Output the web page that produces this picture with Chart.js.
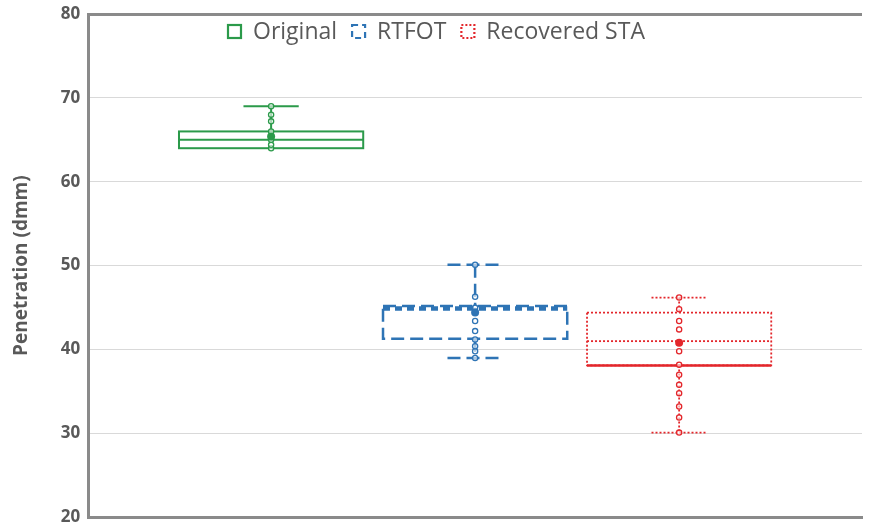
<!DOCTYPE html>
<html>
<head>
<meta charset="utf-8">
<script src="https://cdn.jsdelivr.net/npm/chart.js@4.4.0/dist/chart.umd.min.js"></script>
<style>
  html, body { margin: 0; padding: 0; background: #fff; }
  #wrap { width: 869px; height: 527px; }
</style>
</head>
<body>
<div id="wrap"><canvas id="boxChart"></canvas></div>
<script>
const series = ['Original', 'RTFOT', 'Recovered STA'];
const lowWhisker = [64, 39, 30.1];
const q1 = [64, 41.3, 38.1];
const median = [65, 44.9, 41];
const q3 = [66, 45.2, 44.4];
const highWhisker = [69, 50.1, 46.2];
const means = [65.4, 44.4, 40.8];
const points = [
    [64, 64.4, 65, 66, 67.2, 68, 69],
    [39, 39.8, 40.4, 41.2, 42.2, 43.4, 44.6, 45, 46.3, 50.1],
    [30.1, 31.9, 33.2, 34.8, 35.8, 37, 38.2, 39.8, 42.4, 43.4, 44.8, 46.2]
];
const yTicks = [20, 30, 40, 50, 60, 70, 80];

const colors = ['#2b9a4a', '#2e74b5', '#e3262b'];
const dashes = [[], [13, 6], [2, 2]];
const lineWidths = [2, 2.5, 1.8];
const medianDashes = [[], [7, 5], [2, 2]];
const medianWidths = [2, 4.5, 1.8];
const textGrey = '#595959';
const axisGrey = '#8a8a8a';

// draws boxes, whiskers, medians, points and means on top of the (invisible) floating bars
const boxPlugin = {
    id: 'boxes',
    afterDatasetsDraw(chart) {
        const ctx = chart.ctx;
        const y = chart.scales.y;
        series.forEach((name, i) => {
            const bar = chart.getDatasetMeta(i).data[0];
            const cx = bar.x, half = bar.width / 2;
            const left = cx - half, right = cx + half;
            const top = y.getPixelForValue(q3[i]);
            const bot = y.getPixelForValue(q1[i]);
            const capHalf = bar.width * 0.15;
            ctx.save();
            ctx.strokeStyle = colors[i];
            ctx.lineWidth = lineWidths[i];
            ctx.setLineDash(dashes[i]);

            // whiskers
            const hi = y.getPixelForValue(highWhisker[i]);
            const lo = y.getPixelForValue(lowWhisker[i]);
            ctx.beginPath();
            ctx.moveTo(cx, hi); ctx.lineTo(cx, top);
            ctx.moveTo(cx, bot); ctx.lineTo(cx, lo);
            ctx.moveTo(cx - capHalf, hi); ctx.lineTo(cx + capHalf, hi);
            if (lo - bot > 1) { ctx.moveTo(cx - capHalf, lo); ctx.lineTo(cx + capHalf, lo); }
            ctx.stroke();

            // box
            ctx.strokeRect(left, top, right - left, bot - top);

            // median
            const med = y.getPixelForValue(median[i]);
            ctx.setLineDash(medianDashes[i]);
            ctx.lineWidth = medianWidths[i];
            ctx.beginPath();
            ctx.moveTo(left, med); ctx.lineTo(right, med);
            ctx.stroke();

            // solid lower edge on the recovered box
            if (i === 2) {
                ctx.setLineDash([]);
                ctx.lineWidth = 2.5;
                ctx.beginPath();
                ctx.moveTo(left, bot); ctx.lineTo(right, bot);
                ctx.stroke();
            }

            // inner points
            ctx.setLineDash([]);
            ctx.lineWidth = 1.3;
            points[i].forEach(v => {
                ctx.beginPath();
                ctx.arc(cx, y.getPixelForValue(v), 2.6, 0, Math.PI * 2);
                ctx.fillStyle = 'rgba(255,255,255,0.6)';
                ctx.fill();
                ctx.stroke();
            });

            // mean
            ctx.fillStyle = colors[i];
            ctx.beginPath();
            ctx.arc(cx, y.getPixelForValue(means[i]), 4, 0, Math.PI * 2);
            ctx.fill();
            ctx.restore();
        });
    }
};

// legend drawn over the top of the plot area
const legendPlugin = {
    id: 'topLegend',
    afterDraw(chart) {
        const ctx = chart.ctx;
        ctx.save();
        ctx.font = '23px "Open Sans"';
        ctx.textBaseline = 'middle';
        let x = 227;
        const cy = 31;
        series.forEach((name, i) => {
            ctx.strokeStyle = colors[i];
            ctx.lineWidth = 2.2;
            ctx.setLineDash(i === 0 ? [] : (i === 1 ? [6, 4] : [2, 2]));
            ctx.strokeRect(x + 1, cy - 6, 13, 13);
            ctx.setLineDash([]);
            ctx.fillStyle = textGrey;
            ctx.fillText(name, x + 26, cy + 1);
            x += 26 + ctx.measureText(name).width + 14;
        });
        ctx.restore();
    }
};

const ctx = document.getElementById('boxChart').getContext('2d');
const boxChart = new Chart(ctx, {
    type: 'bar',
    data: {
        labels: [''],
        datasets: series.map((name, i) => ({
            label: name,
            data: [[q1[i], q3[i]]],
            backgroundColor: 'rgba(0,0,0,0)',
            borderWidth: 0,
            categoryPercentage: 0.791,
            barPercentage: 0.903
        }))
    },
    options: {
        responsive: true,
        maintainAspectRatio: false,
        animation: false,
        layout: { padding: { top: 14, right: 7, bottom: 1, left: 10 } },
        plugins: {
            legend: { display: false },
            tooltip: { enabled: false }
        },
        scales: {
            x: {
                grid: { display: false },
                ticks: { display: false },
                border: { display: true, color: axisGrey, width: 3 }
            },
            y: {
                min: 20,
                max: 80,
                afterBuildTicks: axis => { axis.ticks = yTicks.map(v => ({ value: v })); },
                ticks: {
                    color: textGrey,
                    padding: 8,
                    // small line height so the end labels do not push the plot area inwards
                    font: { family: 'Open Sans', size: 17, weight: 'bold', lineHeight: 0.2 }
                },
                grid: {
                    drawTicks: false,
                    color: c => c.tick && c.tick.value === 80 ? axisGrey : '#d9d9d9',
                    lineWidth: c => c.tick && c.tick.value === 80 ? 3 : 1
                },
                border: { display: true, color: axisGrey, width: 3 },
                title: {
                    display: true,
                    text: 'Penetration (dmm)',
                    color: textGrey,
                    padding: { top: 0, bottom: 20 },
                    font: { family: 'Open Sans', size: 19, weight: 'bold' }
                }
            }
        }
    },
    plugins: [boxPlugin, legendPlugin]
});
</script>
</body>
</html>
